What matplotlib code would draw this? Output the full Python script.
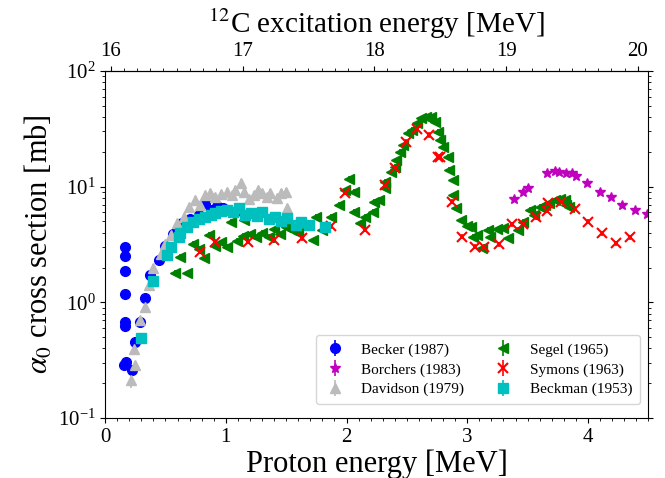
import matplotlib
matplotlib.use("Agg")
import matplotlib.pyplot as plt
import numpy as np
from matplotlib.ticker import MultipleLocator, LogLocator, NullFormatter

plt.rcParams['font.family'] = ['Liberation Serif', 'DejaVu Serif']
plt.rcParams['mathtext.fontset'] = 'stix'

# proton energy [MeV] and alpha0 cross section [mb] for each data set
becker_e = [0.166, 0.166, 0.166, 0.166, 0.168, 0.161, 0.177, 0.155, 0.22, 0.249, 0.291, 0.333,
            0.374, 0.443, 0.493, 0.56, 0.634, 0.70, 0.776, 0.825, 0.88, 0.928, 0.98, 1.08]
becker_s = [2.99, 2.52, 1.88, 1.18, 0.67, 0.62, 0.307, 0.288, 0.26, 0.457, 0.68, 1.09,
            1.73, 2.32, 3.07, 3.9, 4.86, 5.3, 5.69, 7.19, 6.3, 6.85, 6.5, 6.08]

borchers_e = [3.39, 3.46, 3.50, 3.66, 3.73, 3.76, 3.82, 3.87, 3.90, 3.99, 4.10, 4.19, 4.28, 4.39, 4.49]
borchers_s = [7.79, 8.95, 9.68, 13.2, 13.7, 13.3, 13.1, 13.1, 12.3, 10.8, 9.05, 8.2, 6.95, 6.25, 5.81]

davidson_e = [0.216, 0.236, 0.249, 0.291, 0.327, 0.36, 0.401, 0.46, 0.50, 0.549, 0.595, 0.651,
              0.692, 0.748, 0.79, 0.831, 0.87, 0.914, 0.96, 1.011, 1.05, 1.08, 1.122, 1.15,
              1.19, 1.233, 1.27, 1.30, 1.34, 1.37, 1.42, 1.46, 1.496, 1.51]
davidson_s = [0.213, 0.393, 0.288, 0.705, 0.918, 1.41, 1.97, 2.6, 3.2, 3.83, 4.83, 5.5,
              6.7, 7.67, 7.0, 8.47, 8.8, 8.2, 8.7, 9.05, 8.4, 9.3, 10.7, 9.05,
              7.9, 8.47, 9.3, 8.8, 8.2, 8.8, 8.0, 8.9, 9.05, 6.5]

segel_e = [0.58, 0.62, 0.68, 0.73, 0.78, 0.82, 0.86, 0.91, 0.96, 1.01, 1.04, 1.09, 1.14, 1.15,
           1.20, 1.25, 1.30, 1.36, 1.40, 1.45, 1.50, 1.55, 1.60, 1.72, 1.75, 1.80, 1.87, 1.94,
           1.99, 2.02, 2.06, 2.06, 2.11, 2.15, 2.22, 2.23, 2.27, 2.32, 2.32, 2.37, 2.40, 2.41,
           2.44, 2.47, 2.51, 2.54, 2.58, 2.62, 2.66, 2.70, 2.73, 2.76, 2.77, 2.80, 2.84, 2.85,
           2.88, 2.88, 2.91, 2.95, 3.00, 3.03, 3.05, 3.08, 3.12, 3.17, 3.19, 3.25, 3.30, 3.34,
           3.42, 3.46, 3.52, 3.55, 3.60, 3.64, 3.68, 3.73, 3.77, 3.81, 3.82, 3.84]
segel_s = [1.81, 2.48, 1.78, 3.2, 2.9, 2.40, 3.83, 3.07, 3.3, 3.03, 4.99, 3.4, 3.75, 5.15,
           3.9, 3.70, 4.0, 3.70, 4.3, 3.9, 4.51, 4.23, 4.0, 3.46, 5.5, 4.23, 5.5, 6.95,
           9.36, 11.7, 9.05, 6.08, 4.83, 5.5, 6.08, 7.4, 7.67, 9.7, 11.0, 13.5, 14.9, 17.0,
           20.1, 22.9, 29.0, 31.0, 35.3, 39.0, 40.3, 40.3, 36.5, 29.9, 25.4, 22.1, 18.2, 14.0,
           11.4, 8.47, 6.5, 5.15, 4.6, 4.51, 3.7, 3.83, 2.94, 4.23, 3.65, 4.30, 4.37, 3.6,
           4.23, 4.99, 6.3, 5.7, 6.7, 6.9, 7.2, 7.67, 7.8, 7.67, 6.9, 6.7]

symons_e = [0.79, 0.91, 1.18, 1.40, 1.63, 1.87, 1.99, 2.15, 2.32, 2.40, 2.49, 2.58, 2.68, 2.76,
            2.77, 2.87, 2.96, 3.06, 3.14, 3.26, 3.37, 3.46, 3.57, 3.66, 3.67, 3.78, 3.89, 4.00,
            4.12, 4.23, 4.35]
symons_s = [2.74, 3.35, 3.35, 3.46, 3.58, 4.57, 8.87, 4.23, 10.3, 14.4, 24.5, 31.3, 28.0, 18.0,
            18.2, 7.4, 3.70, 3.03, 3.03, 3.18, 4.76, 4.76, 5.43, 6.17, 7.2, 7.41, 6.42, 4.99,
            3.95, 3.24, 3.65]

beckman_e = [0.30, 0.40, 0.51, 0.55, 0.61, 0.62, 0.68, 0.73, 0.78, 0.83, 0.88, 0.91, 0.96, 1.01,
             1.06, 1.11, 1.16, 1.21, 1.26, 1.30, 1.36, 1.41, 1.46, 1.51, 1.58, 1.62, 1.69, 1.82]
beckman_s = [0.49, 1.54, 2.57, 3.03, 3.70, 3.95, 4.5, 4.99, 5.3, 5.5, 5.7, 5.89, 6.1, 6.29,
             6.0, 6.5, 5.7, 5.89, 5.6, 6.08, 5.3, 5.5, 5.0, 5.33, 4.67, 4.99, 4.67, 4.51]

# p + 11B -> 12C* kinematics
q_value = 15.957
cm_factor = 0.9162


def to_ex(ep):
    return q_value + cm_factor * ep


def to_ep(ex):
    return (ex - q_value) / cm_factor


fig, ax = plt.subplots(figsize=(6.65, 4.78), dpi=100)
fig.subplots_adjust(left=0.158, right=0.975, top=0.8515, bottom=0.1255)

sets = [
    ('Becker (1987)', becker_e, becker_s, 'o', 'b', 0.06),
    ('Borchers (1983)', borchers_e, borchers_s, '*', 'm', 0.06),
    ('Davidson (1979)', davidson_e, davidson_s, '^', '#bbbbbb', 0.08),
    ('Segel (1965)', segel_e, segel_s, '<', 'g', 0.05),
    ('Symons (1963)', symons_e, symons_s, 'x', 'r', 0.05),
    ('Beckman (1953)', beckman_e, beckman_s, 's', 'c', 0.05),
]
for label, e, s, mk, col, rel in sets:
    s = np.array(s)
    err = s * rel
    if label.startswith('Davidson'):
        err[0] = s[0] * 0.15
    ax.errorbar(e, s, yerr=err, fmt=mk, color=col, ms=7, mew=1.5 if mk == 'x' else 1,
                elinewidth=1.2, capsize=0, label=label)

ax.set_yscale('log')
ax.set_xlim(0, 4.5)
ax.set_ylim(0.1, 100)
ax.xaxis.set_major_locator(MultipleLocator(1))
ax.xaxis.set_minor_locator(MultipleLocator(0.1))
ax.yaxis.set_minor_locator(LogLocator(base=10, subs=np.arange(2, 10)))
ax.yaxis.set_minor_formatter(NullFormatter())
ax.tick_params(axis='both', which='both', labelsize=15)
ax.tick_params(axis='y', which='both', right=True)
ax.tick_params(axis='x', which='both', top=False)

ax.set_xlabel('Proton energy [MeV]', fontsize=22, labelpad=2)
ax.set_ylabel(r'$\alpha_0$ cross section [mb]', fontsize=22, labelpad=2)

sec = ax.secondary_xaxis('top', functions=(to_ex, to_ep))
sec.set_xticks([16, 17, 18, 19, 20])
sec.xaxis.set_minor_locator(MultipleLocator(0.1))
sec.tick_params(which='both', labelsize=15)
sec.set_xlabel(r'$^{12}$C excitation energy [MeV]', fontsize=21, labelpad=7)

ax.legend(loc='lower right', bbox_to_anchor=(0.985, 0.04), borderaxespad=0, ncol=2,
          fontsize=11, columnspacing=1.8, handlelength=1.5, handletextpad=1.0,
          borderpad=0.5, labelspacing=0.4)

fig.savefig('out.png', dpi=100)
